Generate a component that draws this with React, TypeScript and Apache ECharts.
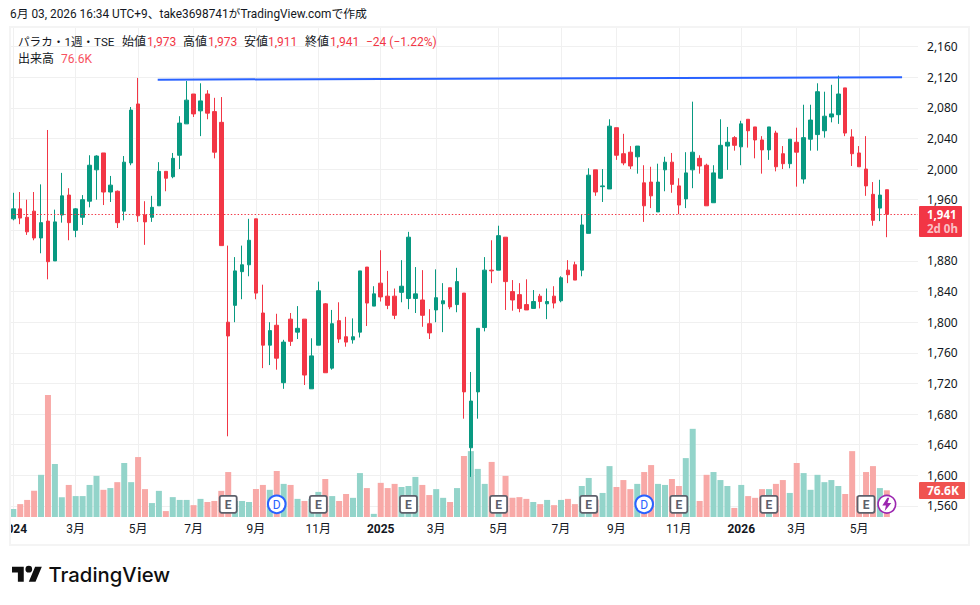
import React, { useEffect, useRef } from "react";
import * as echarts from "echarts";

const opens = [1935,1948,1937,1945,1910,1932,1880,1940,1966,1920,1937,1958,1999,2021,1970,1971,1945,2008,2085,1940,1937,1952,1997,1990,2018,2059,2098,2076,2098,2075,2061,1800,1822,1866,1875,1935,1812,1770,1796,1721,1804,1787,1804,1713,1770,1824,1740,1802,1781,1777,1787,1872,1821,1851,1834,1834,1839,1831,1831,1829,1798,1816,1824,1845,1823,1838,1636,1709,1793,1868,1868,1911,1840,1836,1823,1818,1834,1824,1834,1828,1868,1875,1868,1916,1999,1977,1974,2054,2020,2022,2016,1982,1983,1944,1999,2009,1978,1961,1999,2014,2005,1956,1988,2030,2041,2029,2065,2055,2038,2025,2047,2020,2007,2035,1987,2039,2045,2050,2068,2071,2106,2042,2021,2000,1967,1949,1973];
const closes = [1948,1936,1918,1910,1930,1879,1931,1965,1930,1948,1960,2005,2017,1970,1979,1930,2009,2077,1939,1931,1950,1997,1988,2014,2060,2090,2072,2089,2073,2022,1900,1782,1867,1875,1907,1838,1770,1789,1753,1774,1775,1792,1731,1756,1841,1734,1798,1778,1774,1781,1867,1825,1837,1833,1822,1809,1847,1911,1837,1809,1786,1832,1828,1820,1853,1709,1697,1792,1868,1867,1913,1853,1829,1818,1816,1827,1827,1827,1825,1858,1862,1855,1927,1992,1970,1978,2056,2018,2008,2004,2030,1952,1965,1983,2009,1980,1953,1995,2022,2004,1952,1995,2031,2035,2031,2059,2050,2038,2025,2055,2003,2007,2039,2022,2041,2064,2101,2069,2072,2098,2047,2020,2003,1978,1933,1966,1941];
const lows = [1933,1928,1914,1907,1890,1856,1880,1930,1907,1911,1927,1950,1960,1953,1957,1923,1933,2005,1931,1901,1931,1952,1971,1988,2000,2059,2068,2043,2065,2014,1900,1651,1800,1830,1860,1830,1740,1744,1738,1713,1769,1778,1718,1713,1770,1734,1738,1773,1768,1772,1780,1795,1821,1827,1817,1804,1826,1817,1812,1794,1778,1800,1787,1817,1813,1674,1598,1674,1788,1851,1868,1816,1815,1813,1816,1818,1818,1804,1818,1826,1851,1855,1860,1916,1965,1957,1974,2012,2005,2000,1994,1931,1949,1944,1971,1969,1941,1949,1975,1994,1952,1956,1987,1999,2024,2005,2028,2014,1994,2012,1997,2000,2001,1977,1981,2024,2024,2041,2061,2059,2043,2004,2003,1965,1926,1932,1911];
const highs = [1969,1970,1960,1970,1980,2051,1947,1995,1975,1949,1966,2018,2018,2021,1991,1972,2017,2081,2119,1958,1965,2009,1997,2021,2069,2115,2098,2112,2103,2093,2094,1900,1885,1900,1935,1935,1849,1800,1811,1777,1812,1821,1804,1779,1853,1825,1816,1826,1807,1805,1867,1872,1847,1894,1867,1844,1881,1918,1872,1868,1817,1869,1851,1845,1871,1838,1735,1792,1885,1907,1926,1911,1855,1851,1856,1842,1837,1844,1847,1860,1881,1879,1941,2001,1999,2000,2065,2054,2046,2030,2030,2005,2003,2007,2016,2021,1988,2022,2088,2018,2007,2005,2065,2055,2043,2063,2065,2055,2043,2055,2050,2030,2039,2054,2084,2084,2112,2101,2110,2122,2106,2052,2030,2043,1983,1986,1973];
const volumesK = [23,37,49,75,121,350,152,57,92,60,60,92,118,78,83,100,155,100,172,80,40,75,17,57,49,49,34,52,43,46,75,129,46,46,43,80,92,78,132,95,92,52,46,52,72,109,60,46,66,55,126,83,9,98,83,95,86,89,115,92,63,80,55,43,83,175,189,138,95,158,30,118,55,57,52,43,37,49,34,49,52,37,89,112,50,69,146,86,106,80,95,129,149,95,92,109,89,169,253,46,121,129,106,89,26,92,60,55,80,80,95,106,69,155,126,78,121,100,106,89,66,189,60,129,146,83,76.6];

const gridPriceTicks = [1560,1600,1640,1680,1720,1760,1800,1840,1880,1920,1960,2000,2040,2080,2120,2160];
const labelledPriceTicks = [1560,1600,1640,1680,1720,1760,1800,1840,1880,1960,2000,2040,2080,2120,2160];
const monthTickIndex = [0,9,18,26,35,44,53,61,70,79,87,96,105,113,122];
const monthTickLabels = ["2024","3月","5月","7月","9月","11月","2025","3月","5月","7月","9月","11月","2026","3月","5月"];
const yearLabels = ["2024","2025","2026"];
const earningsWeeks = [31,44,57,70,83,96,109,123];
const dividendWeeks = [38,91];
const flashWeeks = [126];
const trendLine = [[21.33,2116.7],[128.7,2119.8]];
const lastPrice = 1941;

const SLOTS = 131;
const categories = Array.from({ length: SLOTS }, (_, i) => String(i));
const UP = "#089981";
const DOWN = "#F23645";
const CJK = 'Roboto, "Noto Sans CJK JP", sans-serif';
const TEXT = "#131722";

const BOLT = "M5 0L0 8h3.6L2.4 14L9 5.4H5.2L7 0z";
const TV = "M14 22H7V11H0V4h14v18zM28 22h-8l7.5-18h8L28 22zM16 7a4 4 0 1 0 8 0a4 4 0 1 0-8 0z";

function label(text: string, x: number, y: number, fill: string, font: string, opacity = 1) {
  return {
    type: "text", x, y, z: 100, silent: true,
    style: { text, fill, font, textAlign: "left", textVerticalAlign: "middle", opacity },
  };
}

function renderEvent(params: any, api: any) {
  const [x, y] = api.coord([api.value(0), api.value(1)]);
  const kind = api.value(2);
  if (kind === 0) {
    return {
      type: "group",
      children: [
        { type: "rect", shape: { x: x - 8.5, y: y - 8.5, width: 17, height: 17, r: 2 }, style: { fill: "#ffffff", stroke: "#5D606B", lineWidth: 1.8 } },
        { type: "text", style: { text: "E", x, y: y + 0.5, fill: "#5D606B", font: `bold 12px ${CJK}`, align: "center", verticalAlign: "middle", textAlign: "center", textVerticalAlign: "middle" } },
      ],
    };
  }
  if (kind === 1) {
    return {
      type: "group",
      children: [
        { type: "circle", shape: { cx: x, cy: y, r: 8.8 }, style: { fill: "#ffffff", stroke: "#2962FF", lineWidth: 2 } },
        { type: "text", style: { text: "D", x, y: y + 0.5, fill: "#2962FF", font: `12px ${CJK}`, align: "center", verticalAlign: "middle", textAlign: "center", textVerticalAlign: "middle" } },
      ],
    };
  }
  return {
    type: "group",
    children: [
      { type: "circle", shape: { cx: x, cy: y, r: 8.8 }, style: { fill: "#ffffff", stroke: "#9C27B0", lineWidth: 1.6 } },
      { type: "tvbolt", x: x - 4.5, y: y - 6.5, scaleX: 1, scaleY: 0.95, style: { fill: "#9C27B0" } },
    ],
  };
}

export default function App() {
  const ref = useRef<HTMLDivElement>(null);
  useEffect(() => {
    document.body.style.margin = "0";
    document.body.style.background = "#ffffff";
    echarts.graphic.registerShape("tvlogo", echarts.graphic.extendPath(TV, {}));
    echarts.graphic.registerShape("tvbolt", echarts.graphic.extendPath(BOLT, {}));
    const chart = echarts.init(ref.current!, undefined, { renderer: "svg", width: 980, height: 605 });
    const candle = opens.map((o, i) => [o, closes[i], lows[i], highs[i]]);
    const vol = volumesK.map((v, i) => ({
      value: v,
      itemStyle: { color: closes[i] >= opens[i] ? "#93d4ca" : "#f8a9a7" },
    }));
    const eventLevel = 36.5;
    const events = [
      ...earningsWeeks.map((i) => [i, eventLevel, 0]),
      ...dividendWeeks.map((i) => [i, eventLevel, 1]),
      ...flashWeeks.map((i) => [i, eventLevel, 2]),
    ];
    const legendFont = `12px ${CJK}`;
    chart.setOption({
      animation: false,
      backgroundColor: "#ffffff",
      grid: { left: 9.83, top: 28, width: 908.2, height: 489, containLabel: false, outerBoundsMode: "none" },
      xAxis: [
        {
          type: "category",
          data: categories,
          axisLine: { show: false },
          axisTick: { show: false },
          splitLine: {
            show: true,
            alignWithLabel: true,
            interval: (i: number) => monthTickIndex.includes(i),
            lineStyle: { color: "#f0f0f0", width: 1 },
          },
          axisLabel: {
            show: true,
            interval: (i: number) => monthTickIndex.includes(i),
            margin: 6,
            color: TEXT,
            fontSize: 12,
            fontFamily: CJK,
            formatter: (_: string, i: number) => {
              const t = monthTickLabels[monthTickIndex.indexOf(i)] ?? "";
              return yearLabels.includes(t) ? `{y|${t}}` : t;
            },
            rich: { y: { fontWeight: "bold", fontSize: 12, fontFamily: CJK, color: TEXT } },
          },
        },
        { type: "value", min: 0, max: SLOTS, show: false },
      ],
      yAxis: [
        {
          type: "value",
          position: "right",
          min: 1545.6,
          max: 2184.2,
          scale: true,
          axisLine: { show: false },
          axisTick: { show: false, customValues: gridPriceTicks },
          splitLine: { show: true, lineStyle: { color: "#f0f0f0", width: 1 } },
          axisLabel: {
            customValues: labelledPriceTicks,
            margin: 9,
            align: "left",
            padding: [0, 0, 2, 0],
            color: TEXT,
            fontSize: 12,
            fontFamily: '"Noto Sans", sans-serif',
            formatter: (v: number) => v.toLocaleString("en-US"),
          },
        },
        { type: "value", min: 0, max: 1403, show: false },
      ],
      series: [
        {
          type: "bar",
          xAxisIndex: 0,
          yAxisIndex: 1,
          data: vol,
          barWidth: 6,
          z: 1,
        },
        {
          type: "candlestick",
          xAxisIndex: 0,
          yAxisIndex: 0,
          data: candle,
          barWidth: 4,
          z: 3,
          itemStyle: { color: UP, color0: DOWN, borderColor: UP, borderColor0: DOWN, borderWidth: 1 },
          markLine: {
            silent: true,
            symbol: "none",
            label: { show: false },
            lineStyle: { color: DOWN, type: [1.4, 2], width: 1.2, opacity: 1 },
            data: [{ yAxis: lastPrice }],
          },
        },
        {
          type: "line",
          xAxisIndex: 1,
          yAxisIndex: 0,
          data: trendLine,
          symbol: "none",
          z: 4,
          lineStyle: { color: "#2962FF", width: 2 },
        },
        {
          type: "custom",
          xAxisIndex: 0,
          yAxisIndex: 1,
          data: events,
          renderItem: renderEvent,
          clip: false,
          z: 5,
        },
      ],
      graphic: [
        { type: "rect", z: 90, silent: true, shape: { x: 0, y: 26, width: 10, height: 520 }, style: { fill: "#ffffff" } },
        { type: "rect", z: 91, silent: true, shape: { x: 10, y: 27, width: 959, height: 518 }, style: { fill: "none", stroke: "#f4f4f4", lineWidth: 2 } },
        label("6月 03, 2026 16:34 UTC+9、take3698741がTradingView.comで作成", 10, 14, TEXT, `11.85px ${CJK}`),
        label("パラカ・1週・TSE", 18, 42, TEXT, `11.6px ${CJK}`),
        label("始値", 122, 42, TEXT, legendFont),
        label("1,973", 147, 42, DOWN, legendFont),
        label("高値", 183, 42, TEXT, legendFont),
        label("1,973", 208, 42, DOWN, legendFont),
        label("安値", 244, 42, TEXT, legendFont),
        label("1,911", 268, 42, DOWN, legendFont),
        label("終値", 305, 42, TEXT, legendFont),
        label("1,941", 330, 42, DOWN, legendFont),
        label("−24 (−1.22%)", 366, 42, DOWN, legendFont),
        label("出来高", 18, 59, TEXT, legendFont),
        label("76.6K", 61, 59, "#F7525F", legendFont),
        { type: "rect", z: 95, silent: true, shape: { x: 919, y: 206, width: 43, height: 31, r: 1 }, style: { fill: DOWN } },
        label("1,941", 927, 214.5, "#ffffff", 'bold 11.5px "Noto Sans", sans-serif'),
        label("2d 0h", 927, 228, "#ffffff", 'bold 11.5px "Noto Sans", sans-serif', 0.7),
        { type: "rect", z: 95, silent: true, shape: { x: 919, y: 482, width: 46, height: 17, r: 1 }, style: { fill: "#F05350" } },
        label("76.6K", 927, 490.5, "#ffffff", 'bold 12px "Noto Sans", sans-serif'),
        { type: "tvlogo", z: 100, silent: true, x: 12, y: 563.3, scaleX: 0.84, scaleY: 0.84, style: { fill: "#0F0F0F" } },
        label("TradingView", 48.5, 574.5, "#0F0F0F", '500 20.3px Inter, sans-serif'),
      ],
    });
    return () => chart.dispose();
  }, []);
  return <div ref={ref} style={{ position: "absolute", left: 0, top: 0, width: 980, height: 605 }} />;
}
